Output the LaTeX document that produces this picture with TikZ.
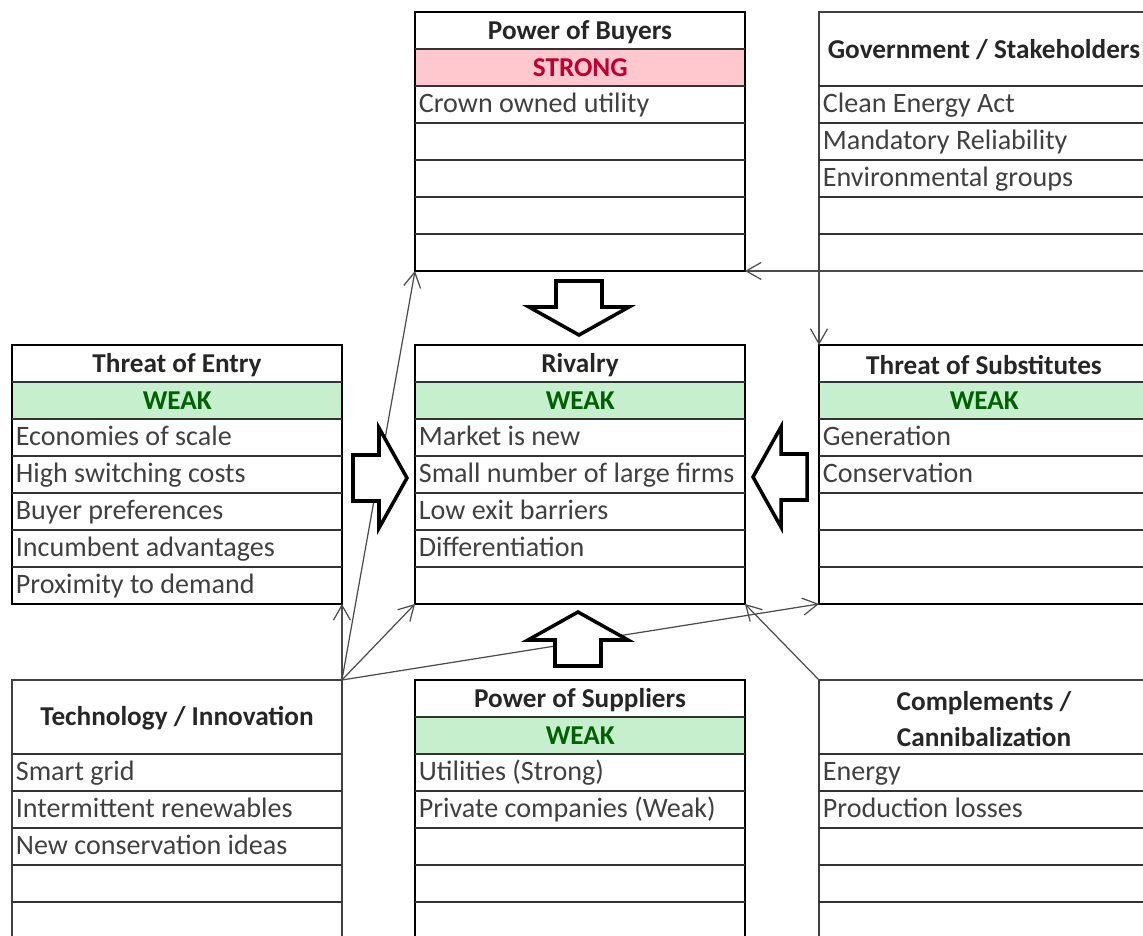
\documentclass[tikz,border=0pt]{standalone}
\usepackage{fontspec}
\setmainfont{Carlito}
\usetikzlibrary{arrows.meta}

\definecolor{weakfill}{HTML}{C6EFCE}
\definecolor{weaktext}{HTML}{006100}
\definecolor{strongfill}{HTML}{FFC7CE}
\definecolor{strongtext}{HTML}{C00030}
\definecolor{itemgray}{HTML}{404040}
\definecolor{headgray}{HTML}{262626}

\tikzset{
  box/.style={draw, line width=1.6pt, anchor=north west, inner sep=0pt, outer sep=0pt,
    minimum width=6.6cm, minimum height=5.18cm},
  thinbox/.style={box, line width=0.8pt, draw=black!75},
  rowline/.style={line width=0.8pt, draw=black!80},
  item/.style={anchor=west, inner sep=2pt, text=itemgray, text height=1.5ex, text depth=.35ex,
    font=\fontsize{16}{18}\selectfont},
  head/.style={inner sep=0pt, text=headgray, font=\bfseries\fontsize{15.5}{18}\selectfont},
  status/.style={head, anchor=north west, minimum width=6.6cm, minimum height=.74cm},
  weak/.style={status, fill=weakfill, text=weaktext},
  strong/.style={status, fill=strongfill, text=strongtext},
  link/.style={-{Straight Barb[length=3mm,width=3.4mm]}, line width=.7pt, draw=black!70},
  fatarrow/.style={draw, line width=2pt, fill=white, line join=miter}
}

% grid of one table: name, x, y, style, first inner line
\newcommand{\forcegrid}[5]{%
  \node[#4] (#1) at (#2,#3) {};
  \foreach \k in {#5,...,6}
    \draw[rowline] (#2,#3+37*\k) -- ++(330,0);
}
% hollow block arrow: name, tip, rotation
\newcommand{\fatarrow}[3]{%
  \draw[fatarrow, shift={#2}, rotate=#3] (0,0) coordinate (#1)
    -- (-28,-50) -- (-28,-23) -- (-54,-23) -- (-54,23) -- (-28,23) -- (-28,50) -- cycle;
}

\begin{document}
\begin{tikzpicture}[x=0.02cm, y=-0.02cm]
  \useasboundingbox (0,0) rectangle (1143,936);
  \clip (0,0) rectangle (1143,936);

  % power of buyers
  \node[strong] (buy-s) at (415,49) {STRONG};
  \forcegrid{buyers}{415}{12}{box}{1}
  \node[head] (buy-t) at (580,32.5) {Power of Buyers};
  \foreach \txt [count=\i] in {Crown owned utility}
    \node[item] (buy-\i) at (415,70.5+37*\i) {\txt};

  % government
  \forcegrid{gov}{819}{12}{thinbox}{2}
  \node[head] (gov-t) at (984,50) {Government / Stakeholders};
  \foreach \txt [count=\i] in {Clean Energy Act, Mandatory Reliability, Environmental groups}
    \node[item] (gov-\i) at (819,70.5+37*\i) {\txt};

  % threat of entry
  \node[weak] (ent-s) at (12,382) {WEAK};
  \forcegrid{entry}{12}{345}{box}{1}
  \node[head] (ent-t) at (177,365.5) {Threat of Entry};
  \foreach \txt [count=\i] in {Economies of scale, High switching costs, Buyer preferences,
      Incumbent advantages, Proximity to demand}
    \node[item] (ent-\i) at (12,403.5+37*\i) {\txt};

  % rivalry
  \node[weak] (riv-s) at (415,382) {WEAK};
  \forcegrid{rivalry}{415}{345}{box}{1}
  \node[head] (riv-t) at (580,365.5) {Rivalry};
  \foreach \txt [count=\i] in {Market is new, Small number of large firms, Low exit barriers,
      Differentiation}
    \node[item] (riv-\i) at (415,403.5+37*\i) {\txt};

  % threat of substitutes
  \node[weak] (sub-s) at (819,382) {WEAK};
  \forcegrid{subst}{819}{345}{box}{1}
  \node[head] (sub-t) at (984,365.5) {Threat of Substitutes};
  \foreach \txt [count=\i] in {Generation, Conservation}
    \node[item] (sub-\i) at (819,403.5+37*\i) {\txt};

  % technology
  \forcegrid{tech}{12}{680}{thinbox}{2}
  \node[head] (tec-t) at (177,718) {Technology / Innovation};
  \foreach \txt [count=\i] in {Smart grid, Intermittent renewables, New conservation ideas}
    \node[item] (tec-\i) at (12,738.5+37*\i) {\txt};

  % power of suppliers
  \node[weak] (sup-s) at (415,717) {WEAK};
  \forcegrid{supp}{415}{680}{box}{1}
  \node[head] (sup-t) at (580,700.5) {Power of Suppliers};
  \foreach \txt [count=\i] in {Utilities (Strong), Private companies (Weak)}
    \node[item] (sup-\i) at (415,738.5+37*\i) {\txt};

  % complements
  \forcegrid{compl}{819}{680}{thinbox}{2}
  \node[head, align=center, font=\bfseries\fontsize{15.5}{21}\selectfont] (com-t) at (984,719)
    {Complements /\\Cannibalization};
  \foreach \txt [count=\i] in {Energy, Production losses}
    \node[item] (com-\i) at (819,738.5+37*\i) {\txt};

  % links
  \draw[link] (gov.south east) -- (buyers.south east);
  \draw[link] (gov.south west) -- (subst.north west);
  \draw[link] (tech.north east) -- (buyers.south west);
  \draw[link] (tech.north east) -- (entry.south east);
  \draw[link] (tech.north east) -- (rivalry.south west);
  \draw[link] (tech.north east) -- (subst.south west);
  \draw[link] (compl.north west) -- (rivalry.south east);

  % block arrows into rivalry
  \fatarrow{down}{(579,335)}{-90}
  \fatarrow{right}{(407,478)}{0}
  \fatarrow{left}{(753,477)}{180}
  \fatarrow{up}{(578,612)}{90}
\end{tikzpicture}
\end{document}
